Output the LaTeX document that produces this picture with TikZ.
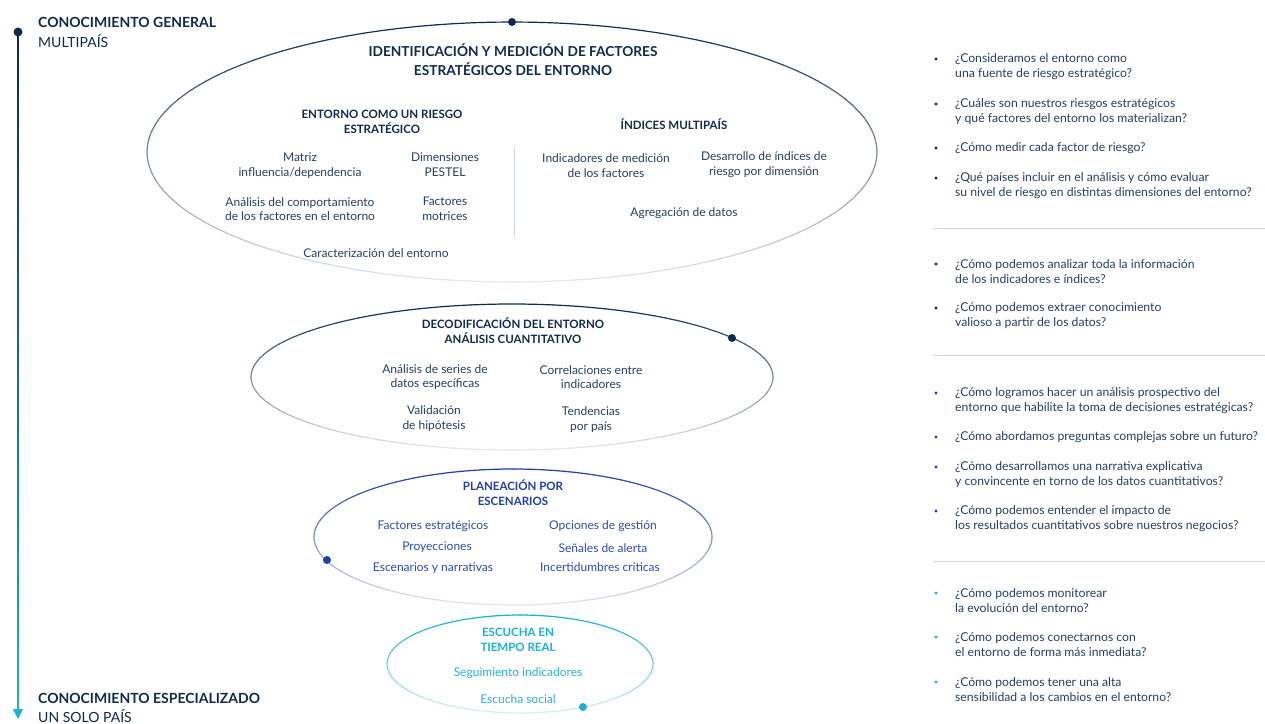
\documentclass[tikz,border=0pt]{standalone}
\usepackage{fontspec}
\setmainfont{Lato}
\usetikzlibrary{arrows.meta}
\definecolor{navy}{HTML}{0E2A4E}
\definecolor{txt}{HTML}{253F63}
\definecolor{royal}{HTML}{1F3FA3}
\definecolor{royaltxt}{HTML}{2C4CAE}
\definecolor{cyanc}{HTML}{1DB0CF}
\definecolor{cyantxt}{HTML}{27B3D2}
\definecolor{sepc}{HTML}{D3D8DF}
\definecolor{navylight}{HTML}{E4E9F1}
\definecolor{royallight}{HTML}{DEE5F7}
\definecolor{cyanlight}{HTML}{D8F1F7}
\newcommand\gradellipse[6]{%
  \foreach \a in {0,3,...,357}{%
    \pgfmathsetmacro\p{100*(1-(1+sin(\a+1.5))/2)}%
    \draw[line width=1.2pt, line cap=round, color=#5!\p!#6]
      ({#1+#3*cos(\a)},{#2+#4*sin(\a)}) -- ({#1+#3*cos(\a+3)},{#2+#4*sin(\a+3)});
  }%
}
\begin{document}
\begin{tikzpicture}[x=1pt,y=-1pt,
  lbl/.style={font=\fontsize{12}{14.5}\selectfont, text=txt, align=center, inner sep=0pt},
  hd/.style={font=\bfseries\fontsize{11.5}{15}\selectfont, text=navy, align=center, inner sep=0pt},
  ttl/.style={font=\bfseries\fontsize{13.7}{19}\selectfont, text=navy, align=center, inner sep=0pt},
  side/.style={anchor=west, inner sep=0pt, text=navy, font=\fontsize{14}{16}\selectfont},
  q/.style={anchor=west, inner sep=0pt, align=left, text=txt, font=\fontsize{12.2}{15}\selectfont},
  dot/.style={circle, fill=#1, inner sep=0pt, minimum size=8pt},
  bul/.style={circle, fill=#1, inner sep=0pt, minimum size=3.2pt},
  sepline/.style={draw=sepc, line width=0.8pt}
]
\useasboundingbox[fill=white] (0,0) rectangle (1265,723);

% ---------- left axis arrow ----------
\coordinate (atop) at (18,32);
\coordinate (abot) at (18,719);
\foreach \i in {0,...,67}{%
  \pgfmathsetmacro\p{100*(1-\i/67)}%
  \draw[line width=2pt, color=navy!\p!cyanc] (18,{32+\i*10}) -- (18,{min(32+\i*10+10.5,711)});
}
\fill[cyanc] (13,709) -- (23,709) -- (abot) -- cycle;
\node[dot=navy, minimum size=9pt] (adot) at (atop) {};

\node[side, font=\bfseries\fontsize{14}{16}\selectfont] (gen1) at (38,22) {CONOCIMIENTO GENERAL};
\node[side] (gen2) at (38,41) {MULTIPAÍS};
\node[side, font=\bfseries\fontsize{14}{16}\selectfont] (esp1) at (38,698) {CONOCIMIENTO ESPECIALIZADO};
\node[side] (esp2) at (38,716) {UN SOLO PAÍS};

% ---------- ellipses ----------
\gradellipse{512}{152}{365}{130}{navy}{navylight}
\gradellipse{512}{377}{261}{73}{navy}{navylight}
\gradellipse{513}{537}{199}{68}{royal}{royallight}
\gradellipse{520}{664}{133}{49}{cyanc}{cyanlight}

\node[dot=navy] (d1) at (512,22) {};
\node[dot=navy] (d2) at (732,338) {};
\node[dot=royal] (d3) at (327,560) {};
\node[dot=cyanc] (d4) at (583,707) {};

% ---------- ellipse 1 ----------
\node[ttl] (t1) at (513,59.5) {IDENTIFICACIÓN Y MEDICIÓN DE FACTORES\\ESTRATÉGICOS DEL ENTORNO};
\node[hd] (h1a) at (382,121.5) {ENTORNO COMO UN RIESGO\\ESTRATÉGICO};
\node[lbl] (m1) at (300,165.5) {Matriz\\influencia/dependencia};
\node[lbl] (m2) at (445,164.5) {Dimensiones\\PESTEL};
\node[lbl] (m3) at (300,209) {Análisis del comportamiento\\de los factores en el entorno};
\node[lbl] (m4) at (445,208.5) {Factores\\motrices};
\node[lbl] (m5) at (376,253) {Caracterización del entorno};
\node[hd] (h1b) at (674,124) {ÍNDICES MULTIPAÍS};
\node[lbl] (m6) at (606,165.5) {Indicadores de medición\\de los factores};
\node[lbl] (m7) at (764,164.5) {Desarrollo de índices de\\riesgo por dimensión};
\node[lbl] (m8) at (684,213) {Agregación de datos};
\coordinate (dv1) at (514,147);
\coordinate (dv2) at (514,237);
\draw[sepline] (dv1) -- (dv2);

% ---------- ellipse 2 ----------
\node[hd] (h2) at (513,330.5) {DECODIFICACIÓN DEL ENTORNO\\ANÁLISIS CUANTITATIVO};
\node[lbl] (n1) at (435,377) {Análisis de series de\\datos específicas};
\node[lbl] (n2) at (591,377) {Correlaciones entre\\indicadores};
\node[lbl] (n3) at (434,418.5) {Validación\\de hipótesis};
\node[lbl] (n4) at (591,419.5) {Tendencias\\por país};

% ---------- ellipse 3 ----------
\node[hd, text=royal] (h3) at (513,492.5) {PLANEACIÓN POR\\ESCENARIOS};
\node[lbl, text=royaltxt] (p1) at (433,526) {Factores estratégicos};
\node[lbl, text=royaltxt] (p2) at (603,526) {Opciones de gestión};
\node[lbl, text=royaltxt] (p3) at (437,547) {Proyecciones};
\node[lbl, text=royaltxt] (p4) at (603,548) {Señales de alerta};
\node[lbl, text=royaltxt] (p5) at (433,568) {Escenarios y narrativas};
\node[lbl, text=royaltxt] (p6) at (600,567) {Incertidumbres críticas};

% ---------- ellipse 4 ----------
\node[hd, text=cyanc] (h4) at (518,639.5) {ESCUCHA EN\\TIEMPO REAL};
\node[lbl, text=cyantxt] (s1) at (518,673) {Seguimiento indicadores};
\node[lbl, text=cyantxt] (s2) at (518,699) {Escucha social};

% ---------- right questions ----------
\node[bul=navy] (b1) at (936,59) {};
\node[q] (q1) at (955,66.5) {¿Consideramos el entorno como\\una fuente de riesgo estratégico?};
\node[bul=navy] (b2) at (936,104) {};
\node[q] (q2) at (955,111.5) {¿Cuáles son nuestros riesgos estratégicos\\y qué factores del entorno los materializan?};
\node[bul=navy] (b3) at (936,148) {};
\node[q] (q3) at (955,148) {¿Cómo medir cada factor de riesgo?};
\node[bul=navy] (b4) at (936,178) {};
\node[q] (q4) at (955,185.5) {¿Qué países incluir en el análisis y cómo evaluar\\su nivel de riesgo en distintas dimensiones del entorno?};
\coordinate (s1a) at (933,228); \coordinate (s1b) at (1265,228);
\draw[sepline] (s1a) -- (s1b);

\node[bul=navy] (b5) at (936,264) {};
\node[q] (q5) at (955,271.5) {¿Cómo podemos analizar toda la información\\de los indicadores e índices?};
\node[bul=navy] (b6) at (936,308) {};
\node[q] (q6) at (955,315.5) {¿Cómo podemos extraer conocimiento\\valioso a partir de los datos?};
\coordinate (s2a) at (933,355); \coordinate (s2b) at (1265,355);
\draw[sepline] (s2a) -- (s2b);

\node[bul=royal] (b7) at (936,393) {};
\node[q] (q7) at (955,400.5) {¿Cómo logramos hacer un análisis prospectivo del\\entorno que habilite la toma de decisiones estratégicas?};
\node[bul=royal] (b8) at (936,437) {};
\node[q] (q8) at (955,437) {¿Cómo abordamos preguntas complejas sobre un futuro?};
\node[bul=royal] (b9) at (936,467) {};
\node[q] (q9) at (955,474.5) {¿Cómo desarrollamos una narrativa explicativa\\y convincente en torno de los datos cuantitativos?};
\node[bul=royal] (b10) at (936,511) {};
\node[q] (q10) at (955,518.5) {¿Cómo podemos entender el impacto de\\los resultados cuantitativos sobre nuestros negocios?};
\coordinate (s3a) at (933,561); \coordinate (s3b) at (1265,561);
\draw[sepline] (s3a) -- (s3b);

\node[bul=cyanc] (b11) at (936,593) {};
\node[q] (q11) at (955,600.5) {¿Cómo podemos monitorear\\la evolución del entorno?};
\node[bul=cyanc] (b12) at (936,637) {};
\node[q] (q12) at (955,644.5) {¿Cómo podemos conectarnos con\\el entorno de forma más inmediata?};
\node[bul=cyanc] (b13) at (936,682) {};
\node[q] (q13) at (955,689.5) {¿Cómo podemos tener una alta\\sensibilidad a los cambios en el entorno?};
\end{tikzpicture}
\end{document}
